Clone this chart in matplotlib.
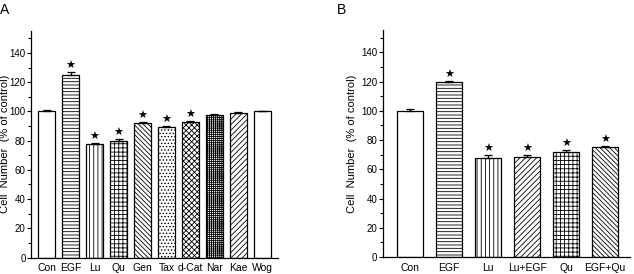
import numpy as np
import matplotlib
matplotlib.use("Agg")
import matplotlib.pyplot as plt
from matplotlib.ticker import MultipleLocator

plt.rcParams['font.family'] = ['Liberation Sans', 'DejaVu Sans']
plt.rcParams['hatch.linewidth'] = 0.6

# Panel A data
labels_a = ['Con', 'EGF', 'Lu', 'Qu', 'Gen', 'Tax', 'd-Cat', 'Nar', 'Kae', 'Wog']
values_a = [100, 125, 77.5, 80, 92, 89, 92.5, 97.5, 99, 100]
errors_a = [1.0, 2.0, 1.0, 0.8, 0.5, 1.2, 1.0, 0.5, 0.5, 0.3]
stars_a = [False, True, True, True, True, True, True, False, False, False]
hatch_a = ['', '-----', '||||', '++++', '\\' * 7, '.....', 'xxxxxx', '++++++++', '//////', '']

# Panel B data
labels_b = ['Con', 'EGF', 'Lu', 'Lu+EGF', 'Qu', 'EGF+Qu']
values_b = [100, 119.5, 68, 68.5, 71.5, 75]
errors_b = [1.5, 0.8, 1.5, 1.5, 1.5, 0.8]
stars_b = [False, True, True, True, True, True]
hatch_b = ['', '-----', '||||', '//////', '++++', '\\' * 7]


def panel(ax, labels, values, errors, stars, hatches, width, xlim, label_x):
    x = np.arange(len(labels))
    ax.bar(x, values, width=width, color='white', edgecolor='black',
           linewidth=0.9, hatch=hatches)
    ax.errorbar(x, values, yerr=[np.zeros(len(x)), errors], fmt='none',
                ecolor='black', elinewidth=0.9, capsize=3, capthick=0.9)
    for xi, v, e, s in zip(x, values, errors, stars):
        if s:
            ax.text(xi, v + e + 0.8, '★', ha='center', va='bottom',
                    fontsize=8, family='DejaVu Sans')
    ax.set_xlim(*xlim)
    ax.set_ylim(0, 155)
    ax.set_yticks(np.arange(0, 141, 20))
    ax.yaxis.set_minor_locator(MultipleLocator(10))
    ax.set_xticks(x)
    ax.set_xticklabels(labels)
    ax.tick_params(axis='x', length=0, pad=4, labelsize=7.5)
    ax.tick_params(axis='y', which='major', length=3, width=0.8, labelsize=7, pad=1)
    ax.tick_params(axis='y', which='minor', length=2, width=0.8)
    ax.spines['top'].set_visible(False)
    ax.spines['right'].set_visible(False)
    ax.spines['left'].set_linewidth(0.9)
    ax.spines['bottom'].set_linewidth(0.9)
    ax.set_ylabel('Cell  Number  (% of control)', fontsize=8)
    ax.yaxis.set_label_coords(label_x, 0.5)


fig = plt.figure(figsize=(6.34, 2.74), dpi=100)
ax_a = fig.add_axes([0.049, 0.06, 0.39, 0.827])
ax_b = fig.add_axes([0.604, 0.062, 0.39, 0.827])

panel(ax_a, labels_a, values_a, errors_a, stars_a, hatch_a, 0.71, (-0.66, 9.68), -0.085)
panel(ax_b, labels_b, values_b, errors_b, stars_b, hatch_b, 0.67, (-0.69, 5.64), -0.106)

fig.text(0.0, 0.965, 'A', fontsize=10, va='center')
fig.text(0.532, 0.965, 'B', fontsize=10, va='center')

fig.savefig('out.png', dpi=100)
